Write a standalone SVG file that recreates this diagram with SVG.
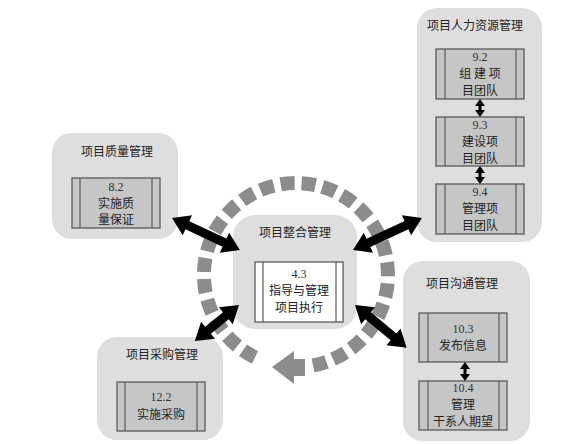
<svg xmlns="http://www.w3.org/2000/svg" width="570" height="444" viewBox="0 0 570 444">
<style>
.grp{fill:#dedede;stroke:none}
.proc{fill:#c6c6c6;stroke:#5a5a5a;stroke-width:1.3}
.procw{fill:#ffffff;stroke:#5a5a5a;stroke-width:1.3}
.bar{stroke:#5a5a5a;stroke-width:1.2}
.t{font-family:"Noto Sans CJK SC","Noto Sans",sans-serif;font-size:12px;fill:#222;text-anchor:middle}
.n{font-family:"Liberation Serif",serif;font-size:12px;fill:#333;text-anchor:middle}
.ring{fill:none;stroke:#8c8c8c;stroke-width:14;stroke-dasharray:14 7}
.big{fill:#000}
</style>
<rect width="570" height="444" fill="#fff"/>

<g id="quality">
<rect class="grp" x="52" y="133" width="126" height="106" rx="20"/>
<text class="t" x="117" y="156">项目质量管理</text>
<rect class="proc" x="72" y="178" width="88" height="50"/>
<line class="bar" x1="80" y1="178" x2="80" y2="228"/><line class="bar" x1="152" y1="178" x2="152" y2="228"/>
<text class="n" x="116" y="191">8.2</text>
<text class="t" x="116" y="208">实施质</text>
<text class="t" x="116" y="224">量保证</text>
</g>

<g id="hr">
<rect class="grp" x="417" y="8" width="125" height="234" rx="20"/>
<text class="t" x="475" y="30">项目人力资源管理</text>
<rect class="proc" x="436" y="49" width="88" height="50"/>
<line class="bar" x1="445" y1="49" x2="445" y2="99"/><line class="bar" x1="516" y1="49" x2="516" y2="99"/>
<text class="n" x="480" y="61">9.2</text>
<text class="t" x="480" y="78">组 建 项</text>
<text class="t" x="480" y="95">目团队</text>
<rect class="proc" x="436" y="117" width="88" height="49"/>
<line class="bar" x1="445" y1="117" x2="445" y2="166"/><line class="bar" x1="516" y1="117" x2="516" y2="166"/>
<text class="n" x="480" y="129">9.3</text>
<text class="t" x="480" y="146">建设项</text>
<text class="t" x="480" y="163">目团队</text>
<rect class="proc" x="436" y="184" width="88" height="50"/>
<line class="bar" x1="445" y1="184" x2="445" y2="234"/><line class="bar" x1="516" y1="184" x2="516" y2="234"/>
<text class="n" x="480" y="196">9.4</text>
<text class="t" x="480" y="213">管理项</text>
<text class="t" x="480" y="230">目团队</text>
</g>

<g id="procurement">
<rect class="grp" x="97" y="337" width="126" height="103" rx="20"/>
<text class="t" x="162" y="359">项目采购管理</text>
<rect class="proc" x="117" y="382" width="88" height="49"/>
<line class="bar" x1="125" y1="382" x2="125" y2="431"/><line class="bar" x1="197" y1="382" x2="197" y2="431"/>
<text class="n" x="161" y="401">12.2</text>
<text class="t" x="161" y="419">实施采购</text>
</g>

<g id="communication">
<rect class="grp" x="403" y="261" width="127" height="180" rx="20"/>
<text class="t" x="462" y="288">项目沟通管理</text>
<rect class="proc" x="419" y="313" width="88" height="49"/>
<line class="bar" x1="428" y1="313" x2="428" y2="362"/><line class="bar" x1="499" y1="313" x2="499" y2="362"/>
<text class="n" x="463" y="333">10.3</text>
<text class="t" x="463" y="350">发布信息</text>
<rect class="proc" x="419" y="381" width="88" height="49"/>
<line class="bar" x1="428" y1="381" x2="428" y2="430"/><line class="bar" x1="499" y1="381" x2="499" y2="430"/>
<text class="n" x="463" y="392">10.4</text>
<text class="t" x="463" y="409">管理</text>
<text class="t" x="463" y="426">干系人期望</text>
</g>

<g id="integration">
<rect class="grp" x="233" y="215" width="124" height="114" rx="22"/>
<text class="t" x="295" y="237">项目整合管理</text>
<rect class="procw" x="255" y="262" width="88" height="60"/>
<line class="bar" x1="263" y1="262" x2="263" y2="322"/><line class="bar" x1="336" y1="262" x2="336" y2="322"/>
<text class="n" x="299" y="278">4.3</text>
<text class="t" x="299" y="295">指导与管理</text>
<text class="t" x="299" y="312">项目执行</text>
</g>

<g id="cycle">
<path class="ring" d="M313,365.4 A92,92 0 1 0 258,358.8"/>
<polygon fill="#8c8c8c" points="272,367 294,351 294,359 305,359 305,376 294,376 294,384"/>
</g>

<g id="connectors">
<polygon class="big" transform="translate(172,218) rotate(25.2)" points="0,0 17,-11 17,-4.5 58,-4.5 58,-11 75,0 58,11 58,4.5 17,4.5 17,11"/>
<polygon class="big" transform="translate(353,250) rotate(-24.9)" points="0,0 17,-11 17,-4.5 59,-4.5 59,-11 76,0 59,11 59,4.5 17,4.5 17,11"/>
<polygon class="big" transform="translate(239,305) rotate(140.7)" points="0,0 17,-11 17,-4.5 40,-4.5 40,-11 57,0 40,11 40,4.5 17,4.5 17,11"/>
<polygon class="big" transform="translate(355,305) rotate(39.6)" points="0,0 17,-11 17,-4.5 50,-4.5 50,-11 67,0 50,11 50,4.5 17,4.5 17,11"/>
<polygon class="big" points="480,99 485,106 481.5,106 481.5,110 485,110 480,117 475,110 478.5,110 478.5,106 475,106"/>
<polygon class="big" points="480,166 485,173 481.5,173 481.5,177 485,177 480,184 475,177 478.5,177 478.5,173 475,173"/>
<polygon class="big" points="465,362 470,369 466.5,369 466.5,374 470,374 465,381 460,374 463.5,374 463.5,369 460,369"/>
</g>
</svg>
